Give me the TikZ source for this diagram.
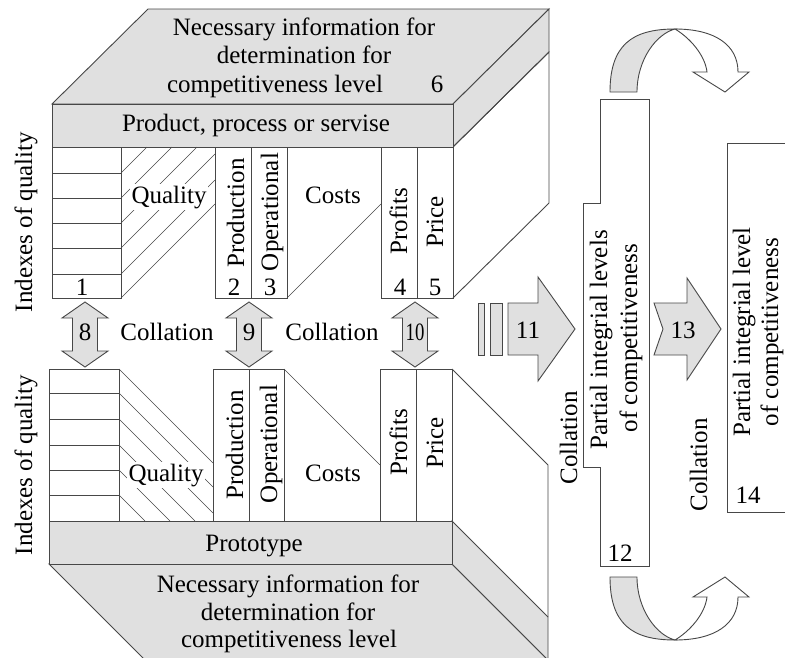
\documentclass[tikz,border=0pt]{standalone}
\usepackage{fontspec}
\setmainfont{Liberation Serif}
\begin{document}
\begin{tikzpicture}[x=1pt,y=-1pt,
  ln/.style={draw=black!72, line width=0.9pt, line join=miter},
  hl/.style={draw=black!72, line width=0.6pt},
  gr/.style={ln, fill=black!12},
  wt/.style={ln, fill=white},
  txt/.style={font=\fontsize{25}{30}\selectfont, inner sep=0pt, anchor=base},
  vtxt/.style={txt, rotate=90},
  lbl/.style={txt, fill=white, inner sep=1.5pt},
  dblarr/.pic={\path[gr] (0,0) -- (23,16) -- (12.5,16) -- (12.5,49) -- (23,49) -- (0,65) -- (-23,49) -- (-12.5,49) -- (-12.5,16) -- (-23,16) -- cycle;},
  twistup/.pic={
    \path[gr] (610,0) .. controls (610,-47) and (632,-63) .. (675,-63)
      .. controls (656,-58) and (637,-32) .. (637,0) -- cycle;
    \path[wt] (675,-63) .. controls (715,-63) and (738,-47) .. (738,-20)
      -- (749,-20) -- (725,0) -- (693,-20) -- (707,-20)
      .. controls (705,-37) and (690,-54) .. (675,-63) -- cycle;},
  twistdown/.pic={
    \path[gr] (610,0) .. controls (610,47) and (632,63) .. (675,63)
      .. controls (656,58) and (637,32) .. (637,0) -- cycle;
    \path[wt] (675,63) .. controls (715,63) and (738,47) .. (738,20)
      -- (749,20) -- (725,0) -- (693,20) -- (707,20)
      .. controls (705,37) and (690,54) .. (675,63) -- cycle;}
]
\useasboundingbox (0,0) rectangle (785,657);
\clip (0,0) rectangle (785,657);

% ---------------- top block ----------------
\path[gr] (52,104) -- (148,9) -- (549,9) -- (453,104) -- cycle;
\path[gr] (453,104) -- (549,9) -- (549,52) -- (453,147) -- cycle;
\path[ln] (453,147) -- (549,52) -- (549,203) -- (453,298);
\path[gr] (52,104) rectangle (453,147);
\path[ln] (52,147) rectangle (121,298);
\foreach \y in {173,198,223,248,274} \path[ln] (52,\y) -- (121,\y);
\path[hl] (121,173) -- (147,147);
\path[hl] (121,198) -- (172,147);
\path[hl] (121,223) -- (197,147);
\path[hl] (121,248) -- (215,154);
\path[hl] (121,274) -- (215,180);
\path[hl] (121,298) -- (215,204);
\path[ln] (215,147) rectangle (251,298);
\path[ln] (251,147) rectangle (287,298);
\path[hl] (287,298) -- (381,204);
\path[ln] (381,147) rectangle (417,298);
\path[ln] (417,147) rectangle (453,298);

\node[txt] (t1) at (304,35) {Necessary information for};
\node[txt] (t2) at (304,63) {determination for};
\node[txt] (t3) at (275,92) {competitiveness level};
\node[txt] (n6) at (437,92) {6};
\node[txt] (prod) at (256,131) {Product, process or servise};
\node[lbl] (q1) at (169,203) {Quality};
\node[txt] (c1) at (333,203) {Costs};
\node[vtxt] (iq1) at (32,222) {Indexes of quality};
\node[vtxt] (pr1) at (244,213) {Production};
\node[vtxt] (op1) at (278,212) {Operational};
\node[vtxt] (pf1) at (407,221) {Profits};
\node[vtxt] (pc1) at (443,222) {Price};
\node[txt] (n1) at (82,295) {1};
\node[txt] (n2) at (234,295) {2};
\node[txt] (n3) at (270,295) {3};
\node[txt] (n4) at (400,295) {4};
\node[txt] (n5) at (435,295) {5};

% ---------------- middle ----------------
\pic at (85,302) {dblarr};
\pic at (249,302) {dblarr};
\pic at (415,302) {dblarr};
\node[txt] (n8) at (85,340) {8};
\node[txt] (n9) at (249,340) {9};
\node[txt, xscale=0.75] (n10) at (415,340) {10};
\node[txt] (col1) at (167,340) {Collation};
\node[txt] (col2) at (332,340) {Collation};

% ---------------- bottom block ----------------
\path[gr] (49,564) -- (452,564) -- (548,660) -- (145,660) -- cycle;
\path[gr] (452,521) -- (548,617) -- (548,660) -- (452,564) -- cycle;
\path[ln] (452,369) -- (548,465) -- (548,617);
\path[gr] (49,521) rectangle (452,564);
\path[ln] (49,369) rectangle (119,521);
\foreach \y in {393,419,445,470,495} \path[ln] (49,\y) -- (119,\y);
\path[hl] (119,369) -- (213,463);
\path[hl] (119,393) -- (213,487);
\path[hl] (119,419) -- (213,513);
\path[hl] (119,445) -- (195,521);
\path[hl] (119,470) -- (170,521);
\path[hl] (119,495) -- (145,521);
\path[ln] (213,369) rectangle (249,521);
\path[ln] (249,369) rectangle (284,521);
\path[hl] (284,369) -- (380,465);
\path[ln] (380,369) rectangle (416,521);
\path[ln] (416,369) rectangle (452,521);

\node[lbl] (q2) at (166,481) {Quality};
\node[txt] (c2) at (333,481) {Costs};
\node[vtxt] (iq2) at (32,465) {Indexes of quality};
\node[vtxt] (pr2) at (243,445) {Production};
\node[vtxt] (op2) at (277,444) {Operational};
\node[vtxt] (pf2) at (407,442) {Profits};
\node[vtxt] (pc2) at (443,443) {Price};
\node[txt] (proto) at (254,551) {Prototype};
\node[txt] (b1) at (288,592) {Necessary information for};
\node[txt] (b2) at (288,620) {determination for};
\node[txt] (b3) at (289,647) {competitiveness level};

% ---------------- right part ----------------
\path[gr] (478,303) rectangle (484,355);
\path[gr] (490,303) rectangle (502,355);
\path[gr] (508,303) -- (538,303) -- (538,277) -- (575,329) -- (538,381) -- (538,355) -- (508,355) -- cycle;
\node[txt] (n11) at (528,338) {11};

\path[wt] (600,99) -- (649,99) -- (649,566) -- (600,566) -- (600,467) -- (583,467) -- (583,203) -- (600,203) -- cycle;
\node[vtxt] (p12a) at (607,340) {Partial integrial levels};
\node[vtxt] (p12b) at (637,338) {of competitiveness};
\node[txt] (n12) at (620,561) {12};
\node[vtxt] (col3) at (577,438) {Collation};

\path[gr] (654,303) -- (687,303) -- (687,278) -- (721,329) -- (687,380) -- (687,355) -- (654,355) -- (663,329) -- cycle;
\node[txt] (n13) at (683,338) {13};

\path[ln] (790,143) -- (727,143) -- (727,512) -- (790,512);
\node[vtxt] (p14a) at (750,332) {Partial integrial level};
\node[vtxt] (p14b) at (778,332) {of competitiveness};
\node[txt] (n14) at (748,503) {14};
\node[vtxt] (col4) at (707,465) {Collation};

\pic at (0,92) {twistup};
\pic at (0,577) {twistdown};
\end{tikzpicture}
\end{document}
